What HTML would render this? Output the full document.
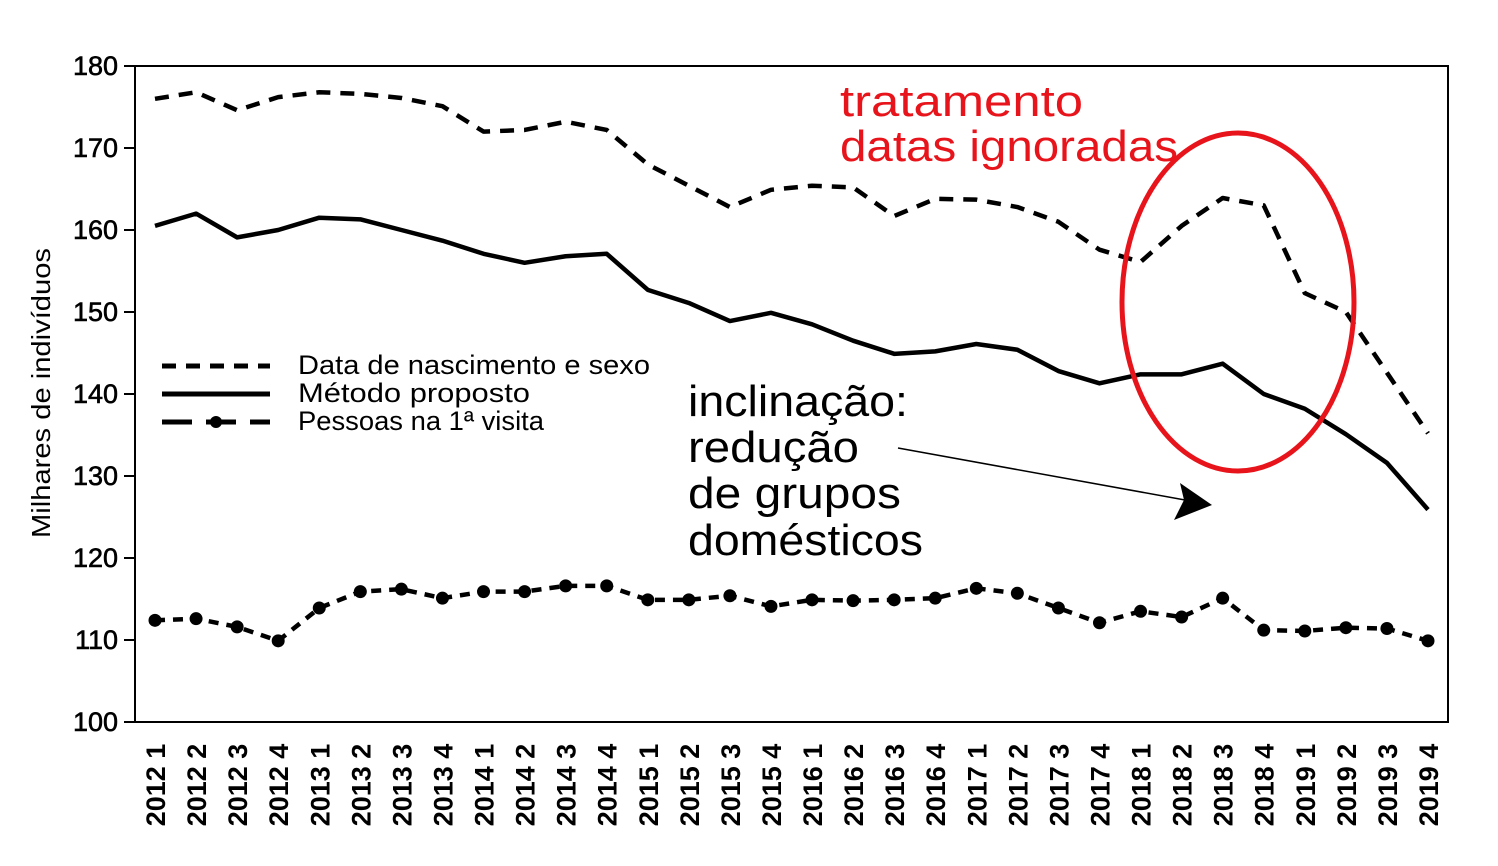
<!DOCTYPE html>
<html><head><meta charset="utf-8"><style>
html,body{margin:0;padding:0;background:#fff;}
svg{display:block;font-family:"Liberation Sans",sans-serif;}
</style></head><body>
<svg id="chart" width="1498" height="866" viewBox="0 0 1498 866">
<rect x="135" y="66" width="1313" height="656" fill="none" stroke="#000" stroke-width="2"/>
<g id="yticks"></g><g id="xticks"></g><g id="series"></g>
<text transform="translate(50,393) rotate(-90)" text-anchor="middle" font-size="26" textLength="290" lengthAdjust="spacingAndGlyphs">Milhares de indivíduos</text>
<g>
<line x1="162" y1="366" x2="270" y2="366" stroke="#000" stroke-width="5" stroke-dasharray="14,10"/>
<line x1="162" y1="394" x2="270" y2="394" stroke="#000" stroke-width="5"/>
<line x1="162" y1="422" x2="270" y2="422" stroke="#000" stroke-width="5" stroke-dasharray="30,14"/>
<circle cx="216" cy="422" r="6" fill="#000"/>
<text x="298" y="374" font-size="27" textLength="352" lengthAdjust="spacingAndGlyphs">Data de nascimento e sexo</text>
<text x="298" y="402" font-size="27" textLength="232" lengthAdjust="spacingAndGlyphs">Método proposto</text>
<text x="298" y="430" font-size="27" textLength="246" lengthAdjust="spacingAndGlyphs">Pessoas na 1ª visita</text>
</g>
<text x="840" y="116" font-size="44" fill="#e8141b" textLength="243" lengthAdjust="spacingAndGlyphs">tratamento</text>
<text x="840" y="161" font-size="44" fill="#e8141b" textLength="338" lengthAdjust="spacingAndGlyphs">datas ignoradas</text>
<ellipse cx="1238" cy="302" rx="116" ry="169" fill="none" stroke="#e8141b" stroke-width="5"/>
<g font-size="44">
<text x="688" y="416" textLength="220" lengthAdjust="spacingAndGlyphs">inclinação:</text>
<text x="688" y="462" textLength="171" lengthAdjust="spacingAndGlyphs">redução</text>
<text x="688" y="508" textLength="213" lengthAdjust="spacingAndGlyphs">de grupos</text>
<text x="688" y="555" textLength="235" lengthAdjust="spacingAndGlyphs">domésticos</text>
</g>
<line x1="898" y1="448" x2="1185" y2="500" stroke="#000" stroke-width="1.5"/>
<polygon points="1212,505 1174,520 1184,500 1180,483" fill="#000"/>
</svg>
<script>
const categories=["2012 1","2012 2","2012 3","2012 4","2013 1","2013 2","2013 3","2013 4","2014 1","2014 2","2014 3","2014 4","2015 1","2015 2","2015 3","2015 4","2016 1","2016 2","2016 3","2016 4","2017 1","2017 2","2017 3","2017 4","2018 1","2018 2","2018 3","2018 4","2019 1","2019 2","2019 3","2019 4"];
const dataNascimento=[176,176.8,174.6,176.2,176.8,176.6,176.1,175.1,172,172.2,173.2,172.2,168,165.4,162.8,164.9,165.4,165.2,161.7,163.8,163.7,162.8,161,157.6,156.1,160.5,163.9,163,152.3,150,142.6,135.2];
const metodoProposto=[160.5,162,159.1,160,161.5,161.3,160,158.7,157.1,156,156.8,157.1,152.7,151.1,148.9,149.9,148.5,146.5,144.9,145.2,146.1,145.4,142.8,141.3,142.4,142.4,143.7,140,138.2,135.1,131.6,125.9];
const pessoasVisita=[112.4,112.6,111.6,109.9,113.9,115.9,116.2,115.1,115.9,115.9,116.6,116.6,114.9,114.9,115.4,114.1,114.9,114.8,114.9,115.1,116.3,115.7,113.9,112.1,113.5,112.8,115.1,111.2,111.1,111.5,111.4,109.9];
const yTicks=[100,110,120,130,140,150,160,170,180];
const NS="http://www.w3.org/2000/svg";
const x=i=>155+i*(1428-155)/(categories.length-1);
const y=v=>722-(v-100)*(656/80);
function mk(tag,attrs,parent){const e=document.createElementNS(NS,tag);for(const k in attrs)e.setAttribute(k,attrs[k]);parent.appendChild(e);return e;}
const yg=document.getElementById('yticks');
yTicks.forEach(t=>{
  const l=mk('line',{x1:124,x2:135,y1:y(t),y2:y(t),stroke:'#000','stroke-width':2},yg);
  
  
  const tx=mk('text',{x:118,y:y(t)+9,'text-anchor':'end','font-size':27,'stroke':'#000','stroke-width':0.6},yg);
  tx.textContent=t;
  
  
});
const xg=document.getElementById('xticks');
categories.forEach((c,i)=>{
  const tx=mk('text',{transform:`translate(${x(i)+10},785) rotate(-90)`,'text-anchor':'middle','font-size':27,'font-weight':'bold'},xg);
  tx.textContent=c;
  
  
});
const sg=document.getElementById('series');
function line(vals,dash,name){
  const p=mk('polyline',{points:vals.map((v,i)=>x(i)+','+y(v)).join(' '),fill:'none',stroke:'#000','stroke-width':4.5,'stroke-linejoin':'round'},sg);
  if(dash)p.setAttribute('stroke-dasharray',dash);
  
  
}
line(dataNascimento,'14,10','series-data-nascimento');
line(metodoProposto,null,'series-metodo-proposto');
line(pessoasVisita,'10,8','series-pessoas-visita');
pessoasVisita.forEach((v,i)=>{
  const c=mk('circle',{cx:x(i),cy:y(v),r:6.5,fill:'#000'},sg);
  
  
});
</script>
</body></html>
